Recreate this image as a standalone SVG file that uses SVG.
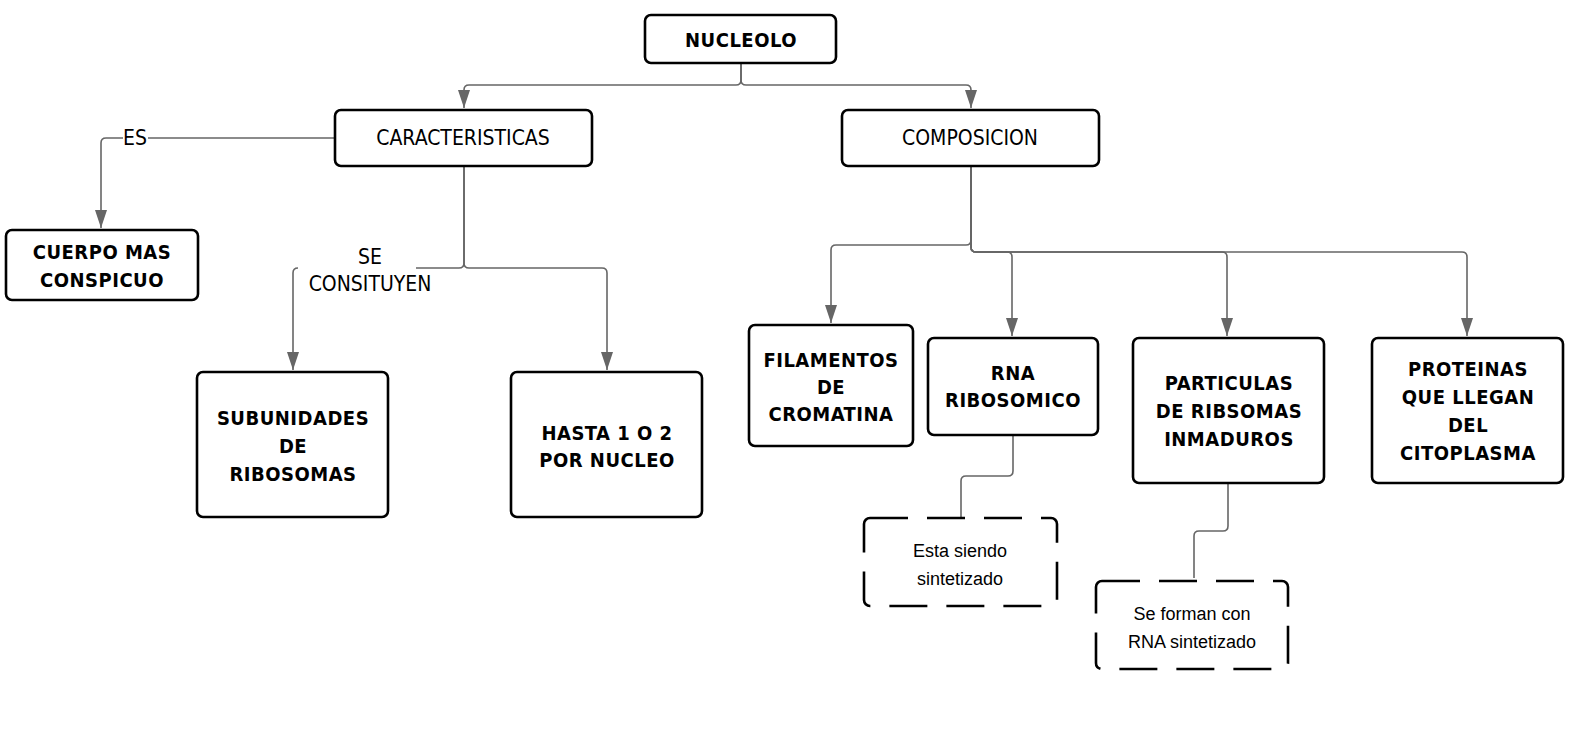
<svg xmlns="http://www.w3.org/2000/svg" width="1578" height="740" viewBox="0 0 1578 740">
<style>
.box{fill:#fff;stroke:#000;stroke-width:2.6}
.dash{fill:#fff;stroke:#000;stroke-width:2.6;stroke-dasharray:38 19}
.b{font-family:"Liberation Sans Narrow","DejaVu Sans Condensed",sans-serif;font-weight:bold;font-size:20px;letter-spacing:0.5px;fill:#000;text-anchor:middle}
.t{font-family:"Liberation Sans Narrow","DejaVu Sans Condensed",sans-serif;font-size:21px;fill:#000;text-anchor:middle}
.s{font-family:"Liberation Sans","Arial",sans-serif;font-size:18px;fill:#000;text-anchor:middle}
.c{fill:none;stroke:#666;stroke-width:1.6}
</style>
<defs>
<marker id="ah" viewBox="0 0 18 12" refX="18" refY="6" markerWidth="18" markerHeight="12" markerUnits="userSpaceOnUse" orient="auto">
<path d="M0,0 L18,6 L0,12 Z" fill="#666"/>
</marker>
</defs>
<rect width="1578" height="740" fill="#fff"/>
<g id="connectors">
<path class="c" d="M741,63 V80 Q741,85 736,85 H469 Q464,85 464,90 V108" marker-end="url(#ah)"/>
<path class="c" d="M741,63 V80 Q741,85 746,85 H966 Q971,85 971,90 V108" marker-end="url(#ah)"/>
<path class="c" d="M335,138 H106 Q101,138 101,143 V228" marker-end="url(#ah)"/>
<path class="c" d="M464,166 V263 Q464,268 459,268 H298 Q293,268 293,273 V370" marker-end="url(#ah)"/>
<path class="c" d="M464,166 V263 Q464,268 469,268 H602 Q607,268 607,273 V370" marker-end="url(#ah)"/>
<path class="c" d="M971,166 V240 Q971,245 966,245 H836 Q831,245 831,250 V323" marker-end="url(#ah)"/>
<path class="c" d="M971,166 V247 Q971,252 976,252 H1007 Q1012,252 1012,257 V336" marker-end="url(#ah)"/>
<path class="c" d="M971,166 V247 Q971,252 976,252 H1222 Q1227,252 1227,257 V336" marker-end="url(#ah)"/>
<path class="c" d="M971,166 V247 Q971,252 976,252 H1462 Q1467,252 1467,257 V336" marker-end="url(#ah)"/>
<path class="c" d="M1013,435 V471 Q1013,476 1008,476 H966 Q961,476 961,481 V517"/>
<path class="c" d="M1228,483 V526 Q1228,531 1223,531 H1199 Q1194,531 1194,536 V578"/>
<rect x="123" y="127" width="25" height="22" fill="#fff"/>
<text class="t" x="135" y="145">ES</text>
<rect x="298" y="243" width="118" height="54" fill="#fff"/>
<text class="t" x="370" y="264">SE</text>
<text class="t" x="370" y="291">CONSITUYEN</text>
</g>
<g id="n-nucleolo">
<rect class="box" x="645" y="15" width="191" height="48" rx="6"/>
<text class="b" x="741" y="47">NUCLEOLO</text>
</g>
<g id="n-caracteristicas">
<rect class="box" x="335" y="110" width="257" height="56" rx="6"/>
<text class="t" x="463" y="145">CARACTERISTICAS</text>
</g>
<g id="n-composicion">
<rect class="box" x="842" y="110" width="257" height="56" rx="6"/>
<text class="t" x="970" y="145">COMPOSICION</text>
</g>
<g id="n-cuerpo">
<rect class="box" x="6" y="230" width="192" height="70" rx="6"/>
<text class="b" x="102" y="259">CUERPO MAS</text>
<text class="b" x="102" y="287">CONSPICUO</text>
</g>
<g id="n-subunidades">
<rect class="box" x="197" y="372" width="191" height="145" rx="6"/>
<text class="b" x="293" y="425">SUBUNIDADES</text>
<text class="b" x="293" y="453">DE</text>
<text class="b" x="293" y="481">RIBOSOMAS</text>
</g>
<g id="n-hasta">
<rect class="box" x="511" y="372" width="191" height="145" rx="6"/>
<text class="b" x="607" y="440">HASTA 1 O 2</text>
<text class="b" x="607" y="467">POR NUCLEO</text>
</g>
<g id="n-filamentos">
<rect class="box" x="749" y="325" width="164" height="121" rx="6"/>
<text class="b" x="831" y="367">FILAMENTOS</text>
<text class="b" x="831" y="394">DE</text>
<text class="b" x="831" y="421">CROMATINA</text>
</g>
<g id="n-rna">
<rect class="box" x="928" y="338" width="170" height="97" rx="6"/>
<text class="b" x="1013" y="380">RNA</text>
<text class="b" x="1013" y="407">RIBOSOMICO</text>
</g>
<g id="n-particulas">
<rect class="box" x="1133" y="338" width="191" height="145" rx="6"/>
<text class="b" x="1229" y="390">PARTICULAS</text>
<text class="b" x="1229" y="418">DE RIBSOMAS</text>
<text class="b" x="1229" y="446">INMADUROS</text>
</g>
<g id="n-proteinas">
<rect class="box" x="1372" y="338" width="191" height="145" rx="6"/>
<text class="b" x="1468" y="376">PROTEINAS</text>
<text class="b" x="1468" y="404">QUE LLEGAN</text>
<text class="b" x="1468" y="432">DEL</text>
<text class="b" x="1468" y="460">CITOPLASMA</text>
</g>
<g id="n-esta">
<rect class="dash" x="864" y="518" width="193" height="88" rx="6"/>
<text class="s" x="960" y="557">Esta siendo</text>
<text class="s" x="960" y="585">sintetizado</text>
</g>
<g id="n-seforman">
<rect class="dash" x="1096" y="581" width="192" height="88" rx="6"/>
<text class="s" x="1192" y="620">Se forman con</text>
<text class="s" x="1192" y="648">RNA sintetizado</text>
</g>
</svg>
